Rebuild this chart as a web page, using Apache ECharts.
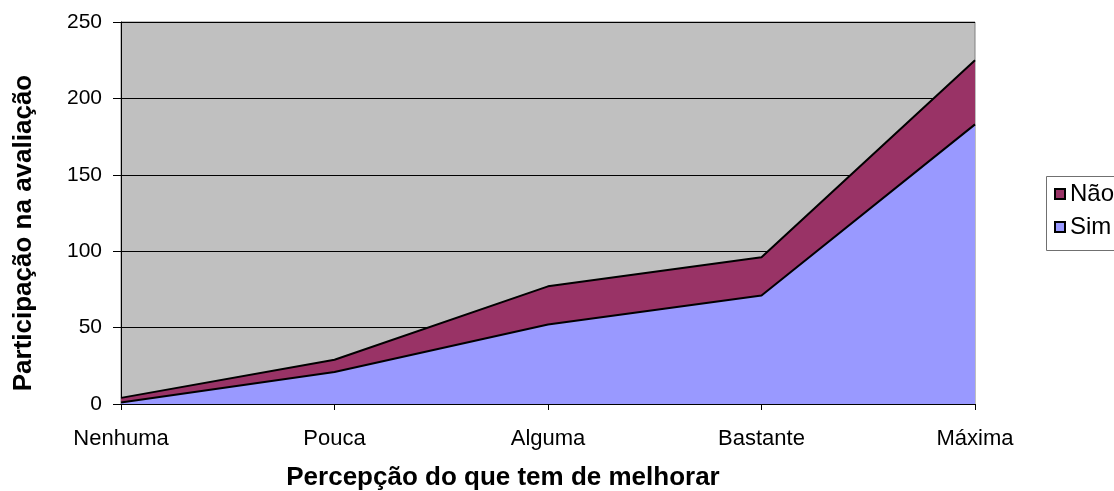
<!DOCTYPE html>
<html>
<head>
<meta charset="utf-8">
<script src="https://cdn.jsdelivr.net/npm/echarts@6/dist/echarts.min.js"></script>
<style>
  html, body { margin: 0; padding: 0; background: #ffffff; }
  #chart { width: 1114px; height: 491px; }
</style>
</head>
<body>
<div id="chart"></div>
<script>
// Categories along the x axis
const categories = ['Nenhuma', 'Pouca', 'Alguma', 'Bastante', 'Máxima'];
// Stacked series values (Sim at the bottom, Não on top)
const simValues = [1, 21, 52, 71, 183];
const naoValues = [3, 8, 25, 25, 42];
// Y axis ticks
const yTicks = [0, 50, 100, 150, 200, 250];

const chart = echarts.init(document.getElementById('chart'), null, { renderer: 'canvas' });

const font = 'Liberation Sans, Arial, sans-serif';

chart.setOption({
  animation: false,
  backgroundColor: '#ffffff',
  grid: {
    left: 121, right: 139, top: 22, bottom: 87,
    outerBoundsMode: 'none',
    containLabel: false,
    show: true,
    backgroundColor: '#C0C0C0',
    borderColor: '#808080',
    borderWidth: 1
  },
  // Legend frame; it runs past the right edge of the canvas
  graphic: [{
    type: 'rect',
    left: 1046, top: 176,
    shape: { width: 120, height: 74 },
    style: { fill: '#ffffff', stroke: '#707070', lineWidth: 1 },
    z: 0
  }],
  legend: {
    orient: 'vertical',
    left: 1054, top: 182,
    data: ['Não', 'Sim'],
    itemWidth: 10, itemHeight: 10,
    itemGap: 9,
    padding: 0,
    icon: 'rect',
    textStyle: { fontFamily: font, fontSize: 24, color: '#000' },
    z: 5
  },
  xAxis: {
    type: 'category',
    data: categories,
    boundaryGap: false,
    name: 'Percepção do que tem de melhorar',
    nameLocation: 'middle',
    nameGap: 61,
    nameTextStyle: {
      fontFamily: font, fontSize: 26, fontWeight: 'bold', color: '#000',
      padding: [0, 90, 0, 0]
    },
    axisLine: { lineStyle: { color: '#000', width: 1 } },
    axisTick: { show: true, alignWithLabel: true, length: 6, lineStyle: { color: '#000' } },
    axisLabel: { fontFamily: font, fontSize: 22, color: '#000', margin: 24 },
    splitLine: { show: false }
  },
  yAxis: {
    type: 'value',
    min: yTicks[0],
    max: yTicks[yTicks.length - 1],
    interval: 50,
    name: 'Participação na avaliação',
    nameLocation: 'middle',
    nameGap: 84,
    nameTextStyle: {
      fontFamily: font, fontSize: 26, fontWeight: 'bold', color: '#000',
      padding: [0, 40, 0, 0]
    },
    axisLine: { show: true, lineStyle: { color: '#000', width: 1 } },
    axisTick: { show: true, length: 8, lineStyle: { color: '#000' } },
    axisLabel: { fontFamily: font, fontSize: 21, color: '#000', margin: 19 },
    splitLine: { show: true, lineStyle: { color: '#000', width: 1 } }
  },
  series: [
    {
      name: 'Sim',
      type: 'line',
      stack: 'total',
      data: simValues,
      symbol: 'none',
      color: '#9999FF',
      lineStyle: { color: '#000', width: 2 },
      areaStyle: { color: '#9999FF', opacity: 1 },
      itemStyle: { color: '#9999FF', borderColor: '#000', borderWidth: 1 }
    },
    {
      name: 'Não',
      type: 'line',
      stack: 'total',
      data: naoValues,
      symbol: 'none',
      color: '#993366',
      lineStyle: { color: '#000', width: 2 },
      areaStyle: { color: '#993366', opacity: 1 },
      itemStyle: { color: '#993366', borderColor: '#000', borderWidth: 1 }
    }
  ]
});
</script>
</body>
</html>
